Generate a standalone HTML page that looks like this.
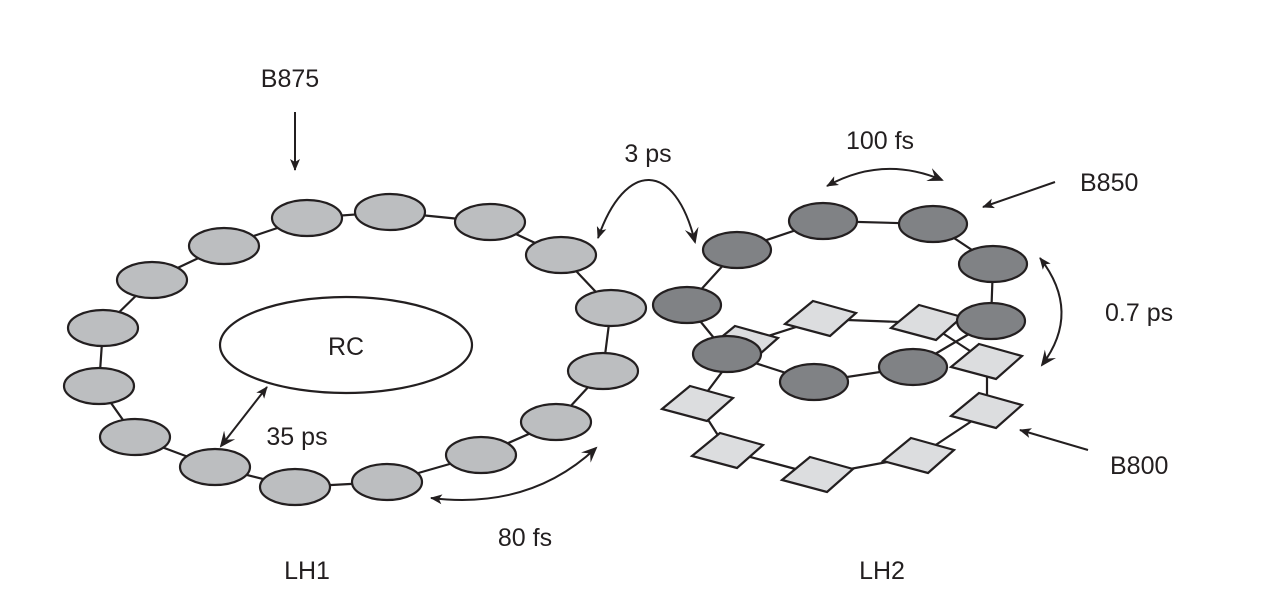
<!DOCTYPE html>
<html><head><meta charset="utf-8"><style>
html,body{margin:0;padding:0;background:#fff;}
svg{display:block;}
text{font-family:"Liberation Sans",Arial,sans-serif;font-size:25px;fill:#231f20;}
</style></head><body>
<svg width="1266" height="614" viewBox="0 0 1266 614" xmlns="http://www.w3.org/2000/svg">
<defs>
<marker id="ah" viewBox="0 0 12 10" refX="11" refY="5" markerWidth="13" markerHeight="10" markerUnits="userSpaceOnUse" orient="auto">
<path d="M0,0 L12,5 L0,10 L3,5 Z" fill="#231f20"/></marker>
<marker id="tl" viewBox="0 0 16 14" refX="14" refY="7" markerWidth="16" markerHeight="14" markerUnits="userSpaceOnUse" orient="auto-start-reverse">
<path d="M0,0 L16,7 L0,14 L6,7 Z" fill="#231f20"/></marker>
</defs>
<g stroke="#231f20" stroke-width="2.2" fill="none">
<polygon points="307,218 390,212 490,222 561,255 611,308 603,371 556,422 481,455 387,482 295,487 215,467 135,437 99,386 103,328 152,280 224,246" stroke-linejoin="round"/>
<polygon points="743,344 821,319 927,323 987,362 987,411 919,456 818,475 728,451 698,404" stroke-linejoin="round"/>
</g>
<g fill="#bcbec0" stroke="#231f20" stroke-width="2.2">
<ellipse cx="307" cy="218" rx="35" ry="18"/><ellipse cx="390" cy="212" rx="35" ry="18"/>
<ellipse cx="490" cy="222" rx="35" ry="18"/><ellipse cx="561" cy="255" rx="35" ry="18"/>
<ellipse cx="611" cy="308" rx="35" ry="18"/><ellipse cx="603" cy="371" rx="35" ry="18"/>
<ellipse cx="556" cy="422" rx="35" ry="18"/><ellipse cx="481" cy="455" rx="35" ry="18"/>
<ellipse cx="387" cy="482" rx="35" ry="18"/><ellipse cx="295" cy="487" rx="35" ry="18"/>
<ellipse cx="215" cy="467" rx="35" ry="18"/><ellipse cx="135" cy="437" rx="35" ry="18"/>
<ellipse cx="99" cy="386" rx="35" ry="18"/><ellipse cx="103" cy="328" rx="35" ry="18"/>
<ellipse cx="152" cy="280" rx="35" ry="18"/><ellipse cx="224" cy="246" rx="35" ry="18"/>
</g>
<ellipse cx="346" cy="345" rx="126" ry="48" fill="#fff" stroke="#231f20" stroke-width="2.2"/>
<text x="346" y="355" text-anchor="middle">RC</text>
<g fill="#dcdddf" stroke="#231f20" stroke-width="2.2">
<path d="M-8,-18 L35,-6 L9,17 L-36,5 Z" transform="translate(743,344)"/>
<path d="M-8,-18 L35,-6 L9,17 L-36,5 Z" transform="translate(821,319)"/>
<path d="M-8,-18 L35,-6 L9,17 L-36,5 Z" transform="translate(927,323)"/>
<path d="M-8,-18 L35,-6 L9,17 L-36,5 Z" transform="translate(987,362)"/>
<path d="M-8,-18 L35,-6 L9,17 L-36,5 Z" transform="translate(987,411)"/>
<path d="M-8,-18 L35,-6 L9,17 L-36,5 Z" transform="translate(919,456)"/>
<path d="M-8,-18 L35,-6 L9,17 L-36,5 Z" transform="translate(818,475)"/>
<path d="M-8,-18 L35,-6 L9,17 L-36,5 Z" transform="translate(728,451)"/>
<path d="M-8,-18 L35,-6 L9,17 L-36,5 Z" transform="translate(698,404)"/>
</g>
<polygon points="737,250 823,221 933,224 993,264 991,321 913,367 814,382 727,354 687,305" fill="none" stroke="#231f20" stroke-width="2.2" stroke-linejoin="round"/>
<g fill="#808285" stroke="#231f20" stroke-width="2.2">
<ellipse cx="737" cy="250" rx="34" ry="18"/><ellipse cx="823" cy="221" rx="34" ry="18"/>
<ellipse cx="933" cy="224" rx="34" ry="18"/><ellipse cx="993" cy="264" rx="34" ry="18"/>
<ellipse cx="991" cy="321" rx="34" ry="18"/><ellipse cx="913" cy="367" rx="34" ry="18"/>
<ellipse cx="814" cy="382" rx="34" ry="18"/><ellipse cx="727" cy="354" rx="34" ry="18"/>
<ellipse cx="687" cy="305" rx="34" ry="18"/>
</g>
<g stroke="#231f20" stroke-width="2" fill="none">
<line x1="295" y1="112" x2="295" y2="170" marker-end="url(#ah)"/>
<line x1="221" y1="446" x2="267" y2="387" marker-start="url(#tl)" marker-end="url(#ah)"/>
<path d="M596,448 Q530,510 431,498" marker-start="url(#tl)" marker-end="url(#ah)"/>
<path d="M695,242 C675,160 625,160 598,238" marker-start="url(#tl)" marker-end="url(#ah)"/>
<path d="M942,180 Q883,155 827,186" marker-start="url(#tl)" marker-end="url(#ah)"/>
<line x1="1055" y1="182" x2="983" y2="207" marker-end="url(#ah)"/>
<path d="M1042,365 Q1082,312 1040,258" marker-start="url(#tl)" marker-end="url(#ah)"/>
<line x1="1088" y1="450" x2="1020" y2="430" marker-end="url(#ah)"/>
</g>
<text x="290" y="87" text-anchor="middle">B875</text>
<text x="297" y="445" text-anchor="middle">35 ps</text>
<text x="525" y="546" text-anchor="middle">80 fs</text>
<text x="648" y="162" text-anchor="middle">3 ps</text>
<text x="880" y="149" text-anchor="middle">100 fs</text>
<text x="1080" y="191">B850</text>
<text x="1105" y="321">0.7 ps</text>
<text x="1110" y="474">B800</text>
<text x="307" y="579" text-anchor="middle">LH1</text>
<text x="882" y="579" text-anchor="middle">LH2</text>
</svg>
</body></html>
